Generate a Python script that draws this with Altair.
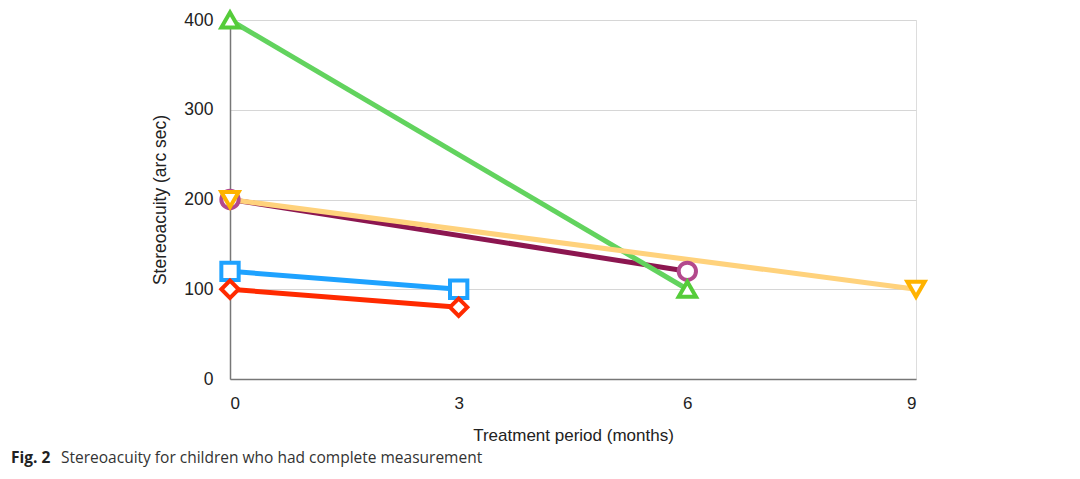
import altair as alt
import pandas as pd

series = ["A", "B", "C", "D", "E"]
months_A = [0, 6]; vals_A = [400, 100]      # green
months_B = [0, 9]; vals_B = [200, 100]      # orange
months_C = [0, 6]; vals_C = [200, 120]      # maroon
months_D = [0, 3]; vals_D = [120, 100]      # blue
months_E = [0, 3]; vals_E = [100, 80]       # red

line_colors = ["#62d35e", "#ffd27c", "#8c1650", "#1ea2ff", "#ff2a00"]
marker_colors = ["#55cc3a", "#ffb300", "#b3498c", "#1ea2ff", "#ff2a00"]
shapes = ["triangle-up", "triangle-down", "circle", "square", "diamond"]
marker_sizes = [300, 300, 85, 190, 300]
draw_order = ["C", "A", "B", "D", "E"]

rows = []
for s, ms, vs in zip(series, [months_A, months_B, months_C, months_D, months_E],
                     [vals_A, vals_B, vals_C, vals_D, vals_E]):
    for m, v in zip(ms, vs):
        rows.append({"series": s, "month": m, "value": v, "ord": draw_order.index(s)})
df = pd.DataFrame(rows)

FONT = "Liberation Sans"
xs = alt.X("month:Q", scale=alt.Scale(domain=[0, 9]),
           axis=alt.Axis(values=[0, 3, 6, 9], format="d", title="Treatment period (months)",
                         grid=False, ticks=False, labelPadding=16, titlePadding=16,
                         labelFontSize=17, titleFontSize=17, labelColor="#222",
                         titleColor="#222", titleFontWeight="normal",
                         domainColor="#777", domainWidth=1.5,
                         labelFont=FONT, titleFont=FONT))
ys = alt.Y("value:Q", scale=alt.Scale(domain=[0, 400]),
           axis=alt.Axis(values=[0, 100, 200, 300, 400], format="d", title="Stereoacuity (arc sec)",
                         grid=True, gridColor="#d6d6d6", ticks=False, labelPadding=17,
                         titlePadding=14, labelFontSize=17.5, titleFontSize=17.5,
                         labelColor="#222", titleColor="#222", titleFontWeight="normal",
                         domainColor="#777", domainWidth=1.5,
                         labelFont=FONT, titleFont=FONT))

base = alt.Chart(df)

lines = base.mark_line(strokeWidth=5, clip=False).encode(
    x=xs, y=ys,
    color=alt.Color("series:N", scale=alt.Scale(domain=series, range=line_colors), legend=None),
    detail="series:N",
    order=alt.Order("month:Q"),
)
line_layers = [lines.transform_filter(alt.datum.series == s) for s in draw_order]

points = base.mark_point(filled=False, fill="white", fillOpacity=1, strokeWidth=4,
                         opacity=1, clip=False).encode(
    x="month:Q", y="value:Q",
    stroke=alt.Stroke("series:N", scale=alt.Scale(domain=series, range=marker_colors), legend=None),
    shape=alt.Shape("series:N", scale=alt.Scale(domain=series, range=shapes), legend=None),
    size=alt.Size("series:N", scale=alt.Scale(domain=series, range=marker_sizes), legend=None),
    order=alt.Order("ord:Q"),
)

cap_df = pd.DataFrame({"bold": ["Fig. 2"], "rest": ["Stereoacuity for children who had complete measurement"]})
cap1 = alt.Chart(cap_df).mark_text(align="left", baseline="middle", fontSize=15.5,
                                   fontWeight="bold", font="Open Sans", color="#222").encode(
    text="bold:N", x=alt.value(-219), y=alt.value(438))
cap2 = alt.Chart(cap_df).mark_text(align="left", baseline="middle", fontSize=15.5,
                                   font="Open Sans", color="#333").encode(
    text="rest:N", x=alt.value(-169), y=alt.value(438))

chart = alt.layer(*line_layers, points, cap1, cap2).properties(
    width=686, height=359,
    autosize=alt.AutoSizeParams(type="none"),
    padding={"left": 222, "top": 12, "right": 156, "bottom": 92},
).configure_view(stroke="#888", strokeWidth=1.5).configure(background="white")

chart.save("out.html", embed_options={"renderer": "svg", "actions": False})
